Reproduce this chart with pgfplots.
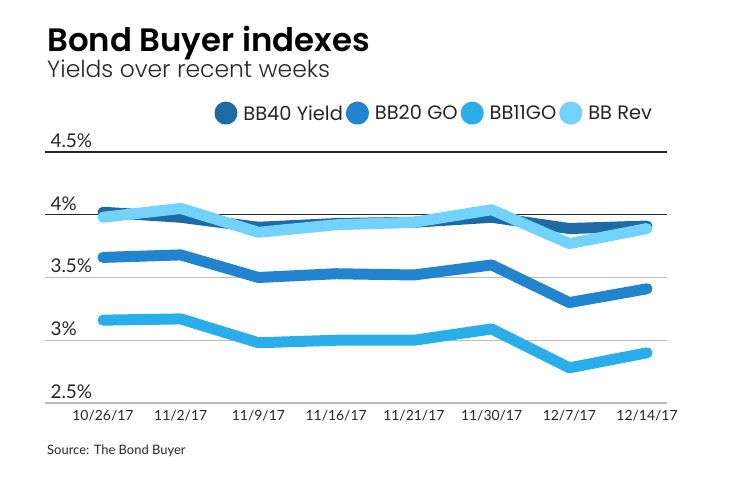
\documentclass[border=0pt]{standalone}
\usepackage{pgfplots}
\pgfplotsset{compat=1.18}
\usepackage{fontspec}
\setmainfont{Lato}
\newfontfamily\geo{Poppins}
\newfontfamily\geotitle{Poppins SemiBold}
\newfontfamily\geolight{Poppins Light}

\definecolor{bbforty}{HTML}{1D6AA5}
\definecolor{bbtwenty}{HTML}{2284CF}
\definecolor{bbeleven}{HTML}{29AEE9}
\definecolor{bbrev}{HTML}{72D2FB}
\definecolor{gridgray}{HTML}{BDBDBD}

\begin{document}
\begin{tikzpicture}[x=1bp,y=1bp]
\useasboundingbox (0,0) rectangle (740,482);
\node[anchor=base west, inner sep=0, font=\geotitle\fontsize{32.5}{32.5}\selectfont] at (47,430) {Bond Buyer indexes};
\node[anchor=base west, inner sep=0, font=\geolight\fontsize{23.5}{23.5}\selectfont, text=black!85] at (47,404) {Yields over recent weeks};
\node[anchor=base west, inner sep=0, font=\fontsize{13}{13}\selectfont, text=black!85] at (47,27) {Source: The Bond Buyer};
\begin{axis}[
    at={(45bp,79bp)}, anchor=south west,
    scale only axis, width=622bp, height=251bp,
    xmin=-0.746, xmax=7.257, ymin=2.5, ymax=4.5,
    clip=false,
    axis line style={draw=none},
    major tick length=0pt,
    xtick={0,...,7},
    xticklabels={10/26/17,11/2/17,11/9/17,11/16/17,11/21/17,11/30/17,12/7/17,12/14/17},
    xticklabel style={font=\fontsize{14}{14}\selectfont, text=black!85, yshift=-4bp},
    ytick={2.5,3,3.5},
    yticklabels={2.5\%,3\%,3.5\%},
    extra y ticks={4,4.5},
    extra y tick labels={4\%,4.5\%},
    extra y tick style={grid style={black!85, line width=1.1bp}},
    yticklabel style={font=\fontsize{19}{19}\selectfont, text=black!85, anchor=south west, xshift=2bp, yshift=1bp},
    ymajorgrids,
    grid style={gridgray, line width=1.3bp},
    legend columns=4,
    legend style={at={(0.629,1.155)}, anchor=center, draw=none, fill=none,
        font=\geo\fontsize{19.5}{19.5}\selectfont, text=black!85,
        nodes={inner xsep=6bp},
        /tikz/every even column/.append style={column sep=-3bp}},
    legend image code/.code={\fill[#1] (6bp,0.5bp) circle (6bp);},
    every axis plot/.append style={line width=11bp, line join=round, line cap=round},
]
\addplot[bbforty] coordinates {(0,4.02) (1,3.98) (2,3.90) (3,3.93) (4,3.94) (5,3.98) (6,3.89) (7,3.91)};
\addlegendentry{BB40 Yield}
\addplot[bbtwenty] coordinates {(0,3.66) (1,3.68) (2,3.50) (3,3.53) (4,3.52) (5,3.60) (6,3.30) (7,3.41)};
\addlegendentry{BB20 GO}
\addplot[bbeleven] coordinates {(0,3.16) (1,3.17) (2,2.98) (3,3.00) (4,3.00) (5,3.09) (6,2.78) (7,2.90)};
\addlegendentry{BB11GO}
\addplot[bbrev] coordinates {(0,3.98) (1,4.05) (2,3.86) (3,3.92) (4,3.94) (5,4.04) (6,3.77) (7,3.89)};
\addlegendentry{BB Rev}
\end{axis}
\end{tikzpicture}
\end{document}
